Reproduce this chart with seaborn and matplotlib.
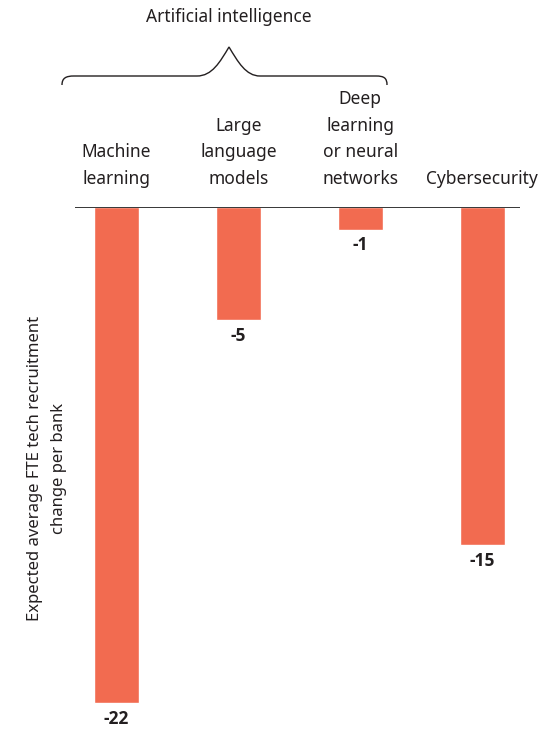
import numpy as np
import pandas as pd
import seaborn as sns
import matplotlib.pyplot as plt
from matplotlib.path import Path
from matplotlib.patches import PathPatch

categories = ["Machine\nlearning", "Large\nlanguage\nmodels", "Deep\nlearning\nor neural\nnetworks", "Cybersecurity"]
values = [-22, -5, -1, -15]
group_title = "Artificial intelligence"
y_label = "Expected average FTE tech recruitment\nchange per bank"

bar_color = "#F26B50"
text_color = "#231F20"

sns.set_style("white")
plt.rcParams["font.family"] = ["Noto Sans", "DejaVu Sans"]

df = pd.DataFrame({"cat": categories, "val": values})

fig = plt.figure(figsize=(5.42, 7.29), dpi=100)
ax = fig.add_axes([75 / 542, 0, (520 - 75) / 542, (729 - 207) / 729])

sns.barplot(data=df, x="cat", y="val", color=bar_color, width=0.37,
            saturation=1, ax=ax)

ax.set_xlim(-0.34, 3.31)
ax.set_ylim(-23.15, 0)
ax.axhline(0, color="black", lw=1.1, zorder=5)
for s in ax.spines.values():
    s.set_visible(False)
ax.set_xticks([])
ax.set_yticks([])
ax.set_xlabel("")
ax.set_ylabel(y_label, fontsize=12, color=text_color, labelpad=6, linespacing=1.6)

# category labels above the baseline
for i, c in enumerate(categories):
    ax.annotate(c, xy=(i, 0), xytext=(0, 14), textcoords="offset points",
                ha="center", va="bottom", fontsize=12.5, color=text_color,
                linespacing=1.6, multialignment="center")

# value labels under the bars
for i, v in enumerate(values):
    ax.annotate(f"{v}", xy=(i, v), xytext=(0, -5), textcoords="offset points",
                ha="center", va="top", fontsize=12.5, fontweight="bold",
                family=["Open Sans", "DejaVu Sans"], color=text_color)

# brace over the AI group (figure pixel coords, y from top)
def px(x, y):
    return (x / 542, 1 - y / 729)

verts = [px(62, 85), px(62, 78), px(66, 76), px(74, 76),
         px(197, 76),
         px(212, 76), px(220, 62), px(229, 47),
         px(238, 62), px(246, 76), px(260, 76),
         px(376, 76),
         px(384, 76), px(387, 78), px(387, 85)]
codes = [Path.MOVETO, Path.CURVE4, Path.CURVE4, Path.CURVE4,
         Path.LINETO,
         Path.CURVE4, Path.CURVE4, Path.CURVE4,
         Path.CURVE4, Path.CURVE4, Path.CURVE4,
         Path.LINETO,
         Path.CURVE4, Path.CURVE4, Path.CURVE4]
brace = PathPatch(Path(verts, codes), transform=fig.transFigure, fill=False,
                  lw=1.0, edgecolor=text_color)
fig.add_artist(brace)
fig.text(229 / 542, 1 - 17 / 729, group_title, ha="center", va="center",
         fontsize=12.5, color=text_color)

fig.savefig("out.png", dpi=100)
